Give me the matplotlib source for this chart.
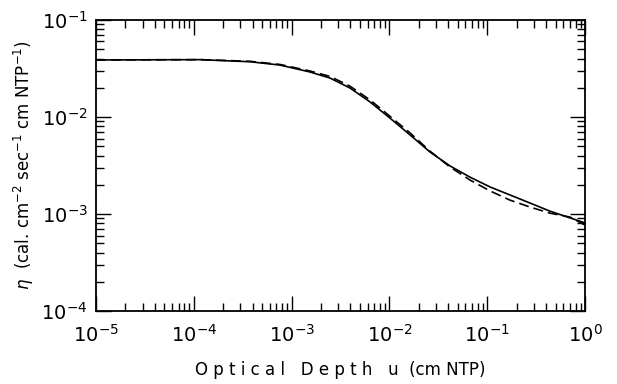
import matplotlib
matplotlib.use("Agg")
import matplotlib.pyplot as plt
from matplotlib.ticker import LogLocator, NullFormatter

# valores (u em cm NTP, eta em cal cm^-2 s^-1 (cm NTP)^-1)
u_solid = [1e-5, 1.16e-4, 3.76e-4, 7.6e-4, 1.54e-3, 2.47e-3, 3.95e-3, 6.34e-3,
           1.01e-2, 1.63e-2, 2.60e-2, 4.17e-2, 6.67e-2, 0.107, 0.216,
           0.439, 1.0]
eta_solid = [0.0387, 0.0390, 0.0371, 0.0343, 0.0291, 0.0252, 0.0199, 0.0143,
             0.00977, 0.00652, 0.00436, 0.00313, 0.00240, 0.00190, 0.00143,
             0.00107, 0.00081]

u_dash = [1e-5, 1.16e-4, 3.76e-4, 7.6e-4, 1.54e-3, 2.47e-3, 3.95e-3, 6.34e-3,
          1.01e-2, 1.63e-2, 2.60e-2, 4.17e-2, 6.67e-2, 0.107, 0.171,
          0.274, 0.439, 0.703, 1.0]
eta_dash = [0.0387, 0.0390, 0.0375, 0.0348, 0.0298, 0.0262, 0.0208, 0.0150,
            0.0102, 0.00684, 0.00445, 0.00305, 0.00224, 0.00173, 0.00139,
            0.00118, 0.00102, 0.00093, 0.00077]

x_lim = (1e-5, 1.0)
y_lim = (1e-4, 1e-1)

plt.rcParams['font.family'] = ['DejaVu Sans']
plt.rcParams['mathtext.fontset'] = 'dejavusans'

fig = plt.figure(figsize=(6.17, 3.84), dpi=100)
ax = fig.add_axes([0.1556, 0.19, 0.7925, 0.758])

ax.plot(u_solid, eta_solid, color='black', lw=1.2, ls='-')
ax.plot(u_dash, eta_dash, color='black', lw=1.2, ls=(0, (6, 3)))

ax.set_xscale('log')
ax.set_yscale('log')
ax.set_xlim(*x_lim)
ax.set_ylim(*y_lim)

for axis in (ax.xaxis, ax.yaxis):
    axis.set_major_locator(LogLocator(base=10, numticks=10))
    axis.set_minor_locator(LogLocator(base=10, subs=range(2, 10), numticks=20))
    axis.set_minor_formatter(NullFormatter())

ax.tick_params(which='both', direction='in', top=True, right=True, width=1.0)
ax.tick_params(which='major', length=11, labelsize=14)
ax.tick_params(axis='x', which='major', pad=9)
ax.tick_params(axis='y', which='major', pad=6)
ax.tick_params(which='minor', length=6)
for s in ax.spines.values():
    s.set_linewidth(1.3)

ax.set_xlabel('O p t i c a l   D e p t h   u  (cm NTP)', fontsize=12, labelpad=11)
ax.set_ylabel(r'$\eta$  (cal. cm$^{-2}$ sec$^{-1}$ cm NTP$^{-1}$)', fontsize=12, labelpad=4)

fig.savefig('out.png', dpi=100)
